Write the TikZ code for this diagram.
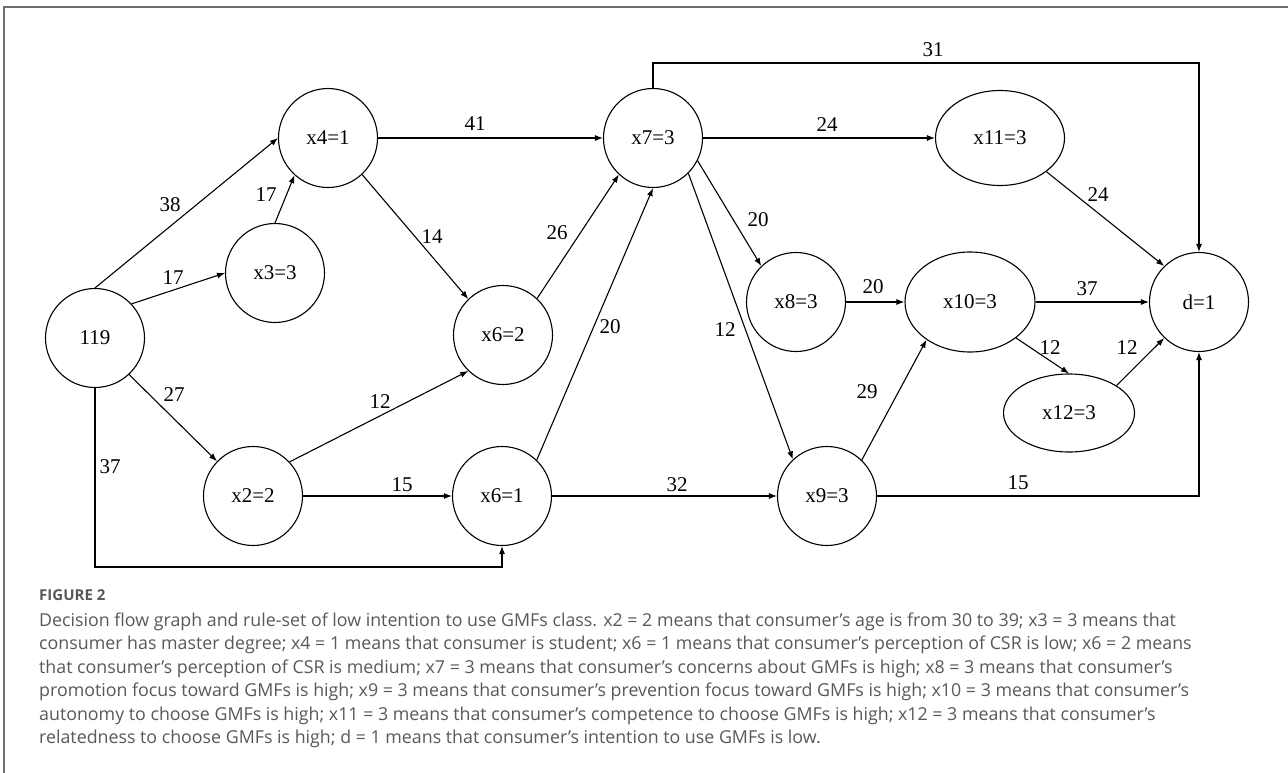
\documentclass[tikz,border=0pt]{standalone}
\usepackage{fontspec}
\setmainfont{Liberation Serif}
\newfontfamily\capfont{Open Sans}
\usetikzlibrary{arrows.meta,shapes.geometric}
\definecolor{capgray}{RGB}{88,88,88}
\definecolor{framegray}{RGB}{110,110,110}

\begin{document}
\begin{tikzpicture}[x=1pt,y=-1pt,
  every node/.style={font=\fontsize{21}{21}\selectfont},
  state/.style={draw, circle, line width=1.1pt, minimum size=99pt, inner sep=0pt},
  oval/.style={draw, ellipse, line width=1.1pt, inner sep=0pt},
  flow/.style={line width=1.1pt, -{Latex[length=8pt,width=6pt]}},
  count/.style={inner sep=1pt},
  capline/.style={anchor=base west, inner sep=0pt, text=capgray,
    font=\capfont\fontsize{17.8}{20}\selectfont},
]
\useasboundingbox (0,0) rectangle (1288,773);

% frame
\draw[framegray, line width=1.2pt] (4,773) -- (4,7) -- (1288,7);

% states
\node[state] (n119) at (95,338) {119};
\node[state] (x4) at (328,138) {x4=1};
\node[state] (x3) at (275,273) {x3=3};
\node[state] (x2) at (253,496) {x2=2};
\node[state] (x62) at (503,335) {x6=2};
\node[state] (x61) at (502,496) {x6=1};
\node[state] (x7) at (653,138) {x7=3};
\node[state] (x8) at (796,302) {x8=3};
\node[state] (x9) at (827,496) {x9=3};
\node[oval, minimum width=130pt, minimum height=100pt] (x10) at (970,302) {x10=3};
\node[oval, minimum width=129pt, minimum height=95pt] (x11) at (1000,138) {x11=3};
\node[oval, minimum width=131pt, minimum height=78pt] (x12) at (1069,413) {x12=3};
\node[state] (d) at (1199,302) {d=1};

% rails for the routed connectors
\coordinate (lowrail) at (0,567);
\coordinate (toprail) at (0,63);

% flows
\draw[flow] (n119.north) -- (x4.west);
\draw[flow] (n119.43) -- (x3.west);
\draw[flow] (x3.north) -- (x4.228);
\draw[flow] (x4.east) -- (x7.west);
\draw[flow] (x4.313) -- (x62.134);
\draw[flow] (n119.313) -- (x2.136);
\draw[flow] (n119.south) -- (n119.south |- lowrail) -| (x61.south);
\draw[flow] (x2.43) -- (x62.226);
\draw[flow] (x2.east) -- (x61.west);
\draw[flow] (x62.47) -- (x7.227);
\draw[flow] (x61.46) -- (x7.south);
\draw[flow] (x61.east) -- (x9.west);
\draw[flow] (x7.east) -- (x11.west);
\draw[flow] (x7.north) -- (x7.north |- toprail) -| (d.north);
\draw[flow] (x7.333) -- (x8.134);
\draw[flow] (x7.315) -- (x9.133);
\draw[flow] (x8.east) -- (x10.west);
\draw[flow] (x9.46) -- (x10.221);
\draw[flow] (x10.east) -- (d.west);
\draw[flow] (x10.322) -- (x12.north);
\draw[flow] (x12.30) -- (d.226);
\draw[flow] (x9.east) -| (d.south);
\draw[flow] (x11.324) -- (d.134);

% counts
\node[count] (c38) at (170,205) {38};
\node[count] (c17a) at (173,278) {17};
\node[count] (c17b) at (266,195) {17};
\node[count] (c41) at (475,124) {41};
\node[count] (c14) at (432,237) {14};
\node[count] (c27) at (174,395) {27};
\node[count] (c37a) at (110,467) {37};
\node[count] (c12a) at (380,402) {12};
\node[count] (c15a) at (402,485) {15};
\node[count] (c26) at (557,233) {26};
\node[count] (c20a) at (610,327) {20};
\node[count] (c32) at (677,485) {32};
\node[count] (c24a) at (827,125) {24};
\node[count] (c31) at (933,50) {31};
\node[count] (c20b) at (758,220) {20};
\node[count] (c12b) at (725,330) {12};
\node[count] (c20c) at (873,287) {20};
\node[count] (c29) at (867,392) {29};
\node[count] (c37b) at (1087,289) {37};
\node[count] (c12c) at (1050,348) {12};
\node[count] (c12d) at (1127,348) {12};
\node[count] (c15b) at (1018,483) {15};
\node[count] (c24b) at (1098,195) {24};

% caption
\node[anchor=base west, inner sep=0pt, text=capgray,
  font=\capfont\bfseries\fontsize{15}{15}\selectfont] (figtag) at (39,600) {FIGURE 2};
\node[capline] (cap1) at (39,626) {Decision flow graph and rule-set of low intention to use GMFs class. x2 = 2 means that consumer’s age is from 30 to 39; x3 = 3 means that};
\node[capline] (cap2) at (39,649.5) {consumer has master degree; x4 = 1 means that consumer is student; x6 = 1 means that consumer’s perception of CSR is low; x6 = 2 means};
\node[capline] (cap3) at (39,673) {that consumer’s perception of CSR is medium; x7 = 3 means that consumer’s concerns about GMFs is high; x8 = 3 means that consumer’s};
\node[capline] (cap4) at (39,696.5) {promotion focus toward GMFs is high; x9 = 3 means that consumer’s prevention focus toward GMFs is high; x10 = 3 means that consumer’s};
\node[capline] (cap5) at (39,720) {autonomy to choose GMFs is high; x11 = 3 means that consumer’s competence to choose GMFs is high; x12 = 3 means that consumer’s};
\node[capline] (cap6) at (39,743.5) {relatedness to choose GMFs is high; d = 1 means that consumer’s intention to use GMFs is low.};
\end{tikzpicture}
\end{document}
